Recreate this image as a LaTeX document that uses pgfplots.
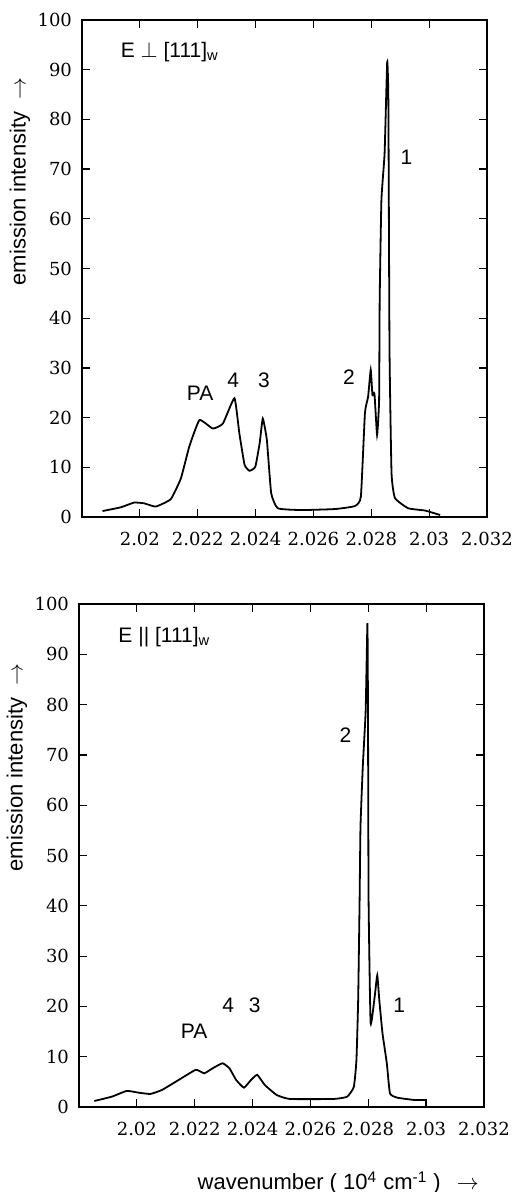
\documentclass[border=0pt]{standalone}
\usepackage{fontspec}
\setmainfont{Liberation Sans}
\newfontfamily\tickfont{DejaVu Serif}
\usepackage{pgfplots}
\pgfplotsset{compat=1.18}

\pgfplotsset{spectrum/.style={
  width=202.5pt, scale only axis,
  xmin=2.018, xmax=2.032, ymin=0, ymax=100,
  xtick={2.02,2.022,2.024,2.026,2.028,2.03,2.032},
  xticklabels={2.02,2.022,2.024,2.026,2.028,2.03,2.032},
  ytick={0,10,20,30,40,50,60,70,80,90,100},
  /pgf/number format/assume math mode=true,
  tick label style={font=\tickfont\fontsize{9}{10}\selectfont},
  xticklabel style={yshift=-4pt},
  yticklabel style={xshift=-1.5pt},
  axis line style={line width=0.9pt},
  tick style={black, line width=0.6pt},
  major tick length=4pt,
  ylabel={emission intensity\hspace{6pt}$\rightarrow$},
  ylabel style={at={(axis description cs:-0.153,0.675)}, anchor=center,
    font=\fontsize{11}{13}\selectfont},
}}
\tikzset{ann/.style={font=\fontsize{10.5}{12}\selectfont},
  curve/.style={black, line width=0.9pt, smooth, tension=0.25}}

\begin{document}
\begin{tikzpicture}
\path[use as bounding box] (0,0) rectangle (259pt,-596pt);

% E perpendicular [111]w
\begin{axis}[spectrum, height=248.5pt, at={(41pt,-258.5pt)}, anchor=south west]
\addplot[curve] coordinates {
  (2.01871,1.2) (2.01934,1.95) (2.0198,2.9) (2.02015,2.75) (2.02055,2.1)
  (2.02107,3.6) (2.02142,7.8) (2.02171,14.2) (2.02206,19.5) (2.02252,17.8)
  (2.02287,18.8) (2.02327,23.9) (2.02344,16.8) (2.02362,10.5) (2.02379,9.3)
  (2.02399,10.1) (2.02414,14.8) (2.02425,19.8) (2.02439,15.5) (2.02454,4.8)
  (2.02477,1.75) (2.02558,1.4) (2.02674,1.6) (2.02743,2.2) (2.02764,4.1)
  (2.02778,20.9) (2.02789,24.2) (2.02798,29.6) (2.02804,24.5) (2.02811,24.8)
  (2.0282,16.5) (2.02827,23.5) (2.02829,43.7) (2.02835,63.8) (2.02846,73.2)
  (2.02855,91.6) (2.02859,83.9) (2.02863,33.6) (2.0287,8.8) (2.02882,3.8)
  (2.02928,1.75) (2.02986,1.3) (2.03038,0.4)};
\node[ann, anchor=west] at (axis cs:2.0191,93.6) {E $\perp$ [111]\textsubscript{w}};
\node[ann] at (axis cs:2.02922,72.4) {1};
\node[ann] at (axis cs:2.02208,24.9) {PA};
\node[ann] at (axis cs:2.02323,27.6) {4};
\node[ann] at (axis cs:2.02429,27.6) {3};
\node[ann] at (axis cs:2.02723,28.2) {2};
\end{axis}

% E parallel [111]w
\begin{axis}[spectrum, height=251.5pt, at={(39.5pt,-553.5pt)}, anchor=south west,
  xlabel={wavenumber ( 10\textsuperscript{4} cm\textsuperscript{-1} )\hspace{8pt}$\rightarrow$},
  xlabel style={at={(axis description cs:0.64,-0.151)}, anchor=center,
    font=\fontsize{11}{13}\selectfont}]
\addplot[curve] coordinates {
  (2.01853,1.2) (2.01913,2.05) (2.01965,3.2) (2.02006,2.85) (2.02047,2.6)
  (2.02087,3.4) (2.02145,5.4) (2.02204,7.4) (2.02233,6.7) (2.02262,7.7)
  (2.02296,8.7) (2.0232,7.7) (2.02343,5.4) (2.0237,3.85) (2.02395,5.4)
  (2.02416,6.4) (2.02442,4.4) (2.02483,2.4) (2.02529,1.6) (2.0268,1.6)
  (2.02727,2.05) (2.0275,4.0) (2.02759,9.3) (2.02765,21.3) (2.0277,41.2)
  (2.02773,55.7) (2.02781,67.7) (2.02791,78.9) (2.02797,96.2) (2.02799,78.3)
  (2.02801,41.2) (2.02808,16.7) (2.02822,21.9) (2.02831,26.2) (2.02838,21.3)
  (2.02849,14.7) (2.02864,8.7) (2.02875,2.7) (2.02901,1.85) (2.02959,1.4)
  (2.03,1.4)};
\addplot[black, line width=0.9pt] coordinates {(2.03,1.4) (2.03,0)};
\node[ann, anchor=west] at (axis cs:2.01912,93.4) {E || [111]\textsubscript{w}};
\node[ann] at (axis cs:2.02721,74) {2};
\node[ann] at (axis cs:2.02198,15) {PA};
\node[ann] at (axis cs:2.02316,20.3) {4};
\node[ann] at (axis cs:2.02407,20.3) {3};
\node[ann] at (axis cs:2.02907,20.3) {1};
\end{axis}
\end{tikzpicture}
\end{document}
